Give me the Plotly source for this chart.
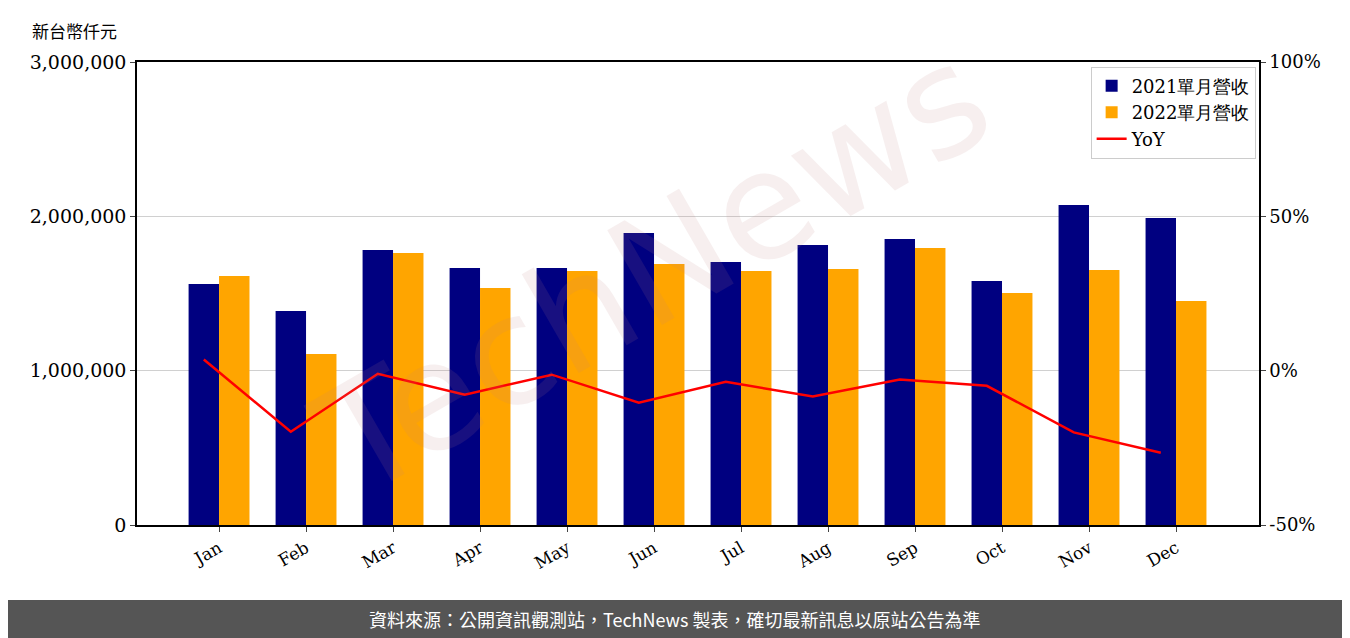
import plotly.graph_objects as go

months = ["Jan", "Feb", "Mar", "Apr", "May", "Jun", "Jul", "Aug", "Sep", "Oct", "Nov", "Dec"]
rev_2021 = [1561000, 1386000, 1782000, 1665000, 1665000, 1892000, 1704000, 1814000, 1853000, 1581000, 2073000, 1989000]
rev_2022 = [1613000, 1108000, 1762000, 1536000, 1646000, 1691000, 1646000, 1659000, 1795000, 1503000, 1652000, 1451000]
yoy = [3.6, -19.8, -1.0, -7.8, -1.3, -10.4, -3.6, -8.4, -2.9, -4.9, -20.0, -26.6]

idx = list(range(len(months)))
w = 0.35
serif = "DejaVu Serif"

fig = go.Figure()
fig.add_trace(go.Bar(x=[i - w / 2 for i in idx], y=rev_2021, width=w, name="2021單月營收",
                     marker=dict(color="#000080", line=dict(width=0))))
fig.add_trace(go.Bar(x=[i + w / 2 for i in idx], y=rev_2022, width=w, name="2022單月營收",
                     marker=dict(color="#FFA500", line=dict(width=0))))
fig.add_trace(go.Scatter(x=[i - w / 2 for i in idx], y=yoy, name="YoY", yaxis="y2",
                         mode="lines", line=dict(color="red", width=2.5)))

# page body has an 8px margin, so the figure is drawn 8px smaller and shifted
fig.update_layout(
    width=1342, height=630,
    margin=dict(l=129, r=91, t=54, b=113, autoexpand=False),
    plot_bgcolor="white", paper_bgcolor="white",
    font=dict(family=serif, size=17, color="black"),
    showlegend=True,
    legend=dict(x=0.997, y=0.99, xanchor="right", yanchor="top",
                bordercolor="#cccccc", borderwidth=1, bgcolor="rgba(255,255,255,0.8)",
                font=dict(size=18), traceorder="normal"),
    xaxis=dict(range=[-0.943, 11.954], tickmode="array", tickvals=idx, ticktext=months,
               tickangle=-30, showgrid=False, showline=True, linecolor="black", linewidth=1.5,
               mirror=True, ticks="outside", ticklen=5, zeroline=False, automargin=False),
    yaxis=dict(range=[0, 3000000], tickvals=[0, 1000000, 2000000, 3000000],
               ticktext=["0", "1,000,000", "2,000,000", "3,000,000"],
               showgrid=True, gridcolor="#d0d0d0", showline=True, linecolor="black",
               linewidth=1.5, ticks="outside", ticklen=5, zeroline=False, automargin=False,
               tickfont=dict(size=19)),
    yaxis2=dict(overlaying="y", side="right", range=[-50, 100], tickvals=[-50, 0, 50, 100],
                ticktext=["-50%", "0%", "50%", "100%"], showgrid=False, showline=True,
                linecolor="black", linewidth=1.5, ticks="outside", ticklen=5, zeroline=False,
                automargin=False, tickfont=dict(size=18)),
)

fig.add_annotation(text="TechNews", xref="paper", yref="paper", x=0.46, y=0.55,
                   showarrow=False, textangle=-30, opacity=0.12,
                   font=dict(family="DejaVu Sans", size=150, color="#c08080"))
fig.add_annotation(text="新台幣仟元", xref="paper", yref="paper", x=-0.095, y=1.1,
                   xanchor="left", showarrow=False,
                   font=dict(family="Noto Sans CJK TC", size=17))

fig.add_shape(type="rect", xref="paper", yref="paper", x0=-0.2, x1=1.2, y0=-0.26, y1=-0.162,
              fillcolor="#555555", line=dict(width=0), layer="below")
fig.add_annotation(text="資料來源：公開資訊觀測站，TechNews 製表，確切最新訊息以原站公告為準",
                   xref="paper", yref="paper", x=(675 - 137) / 1122, y=-0.203, yanchor="middle",
                   showarrow=False,
                   font=dict(family="Noto Sans CJK TC", size=18, color="white"))

fig.write_html("out.html")
